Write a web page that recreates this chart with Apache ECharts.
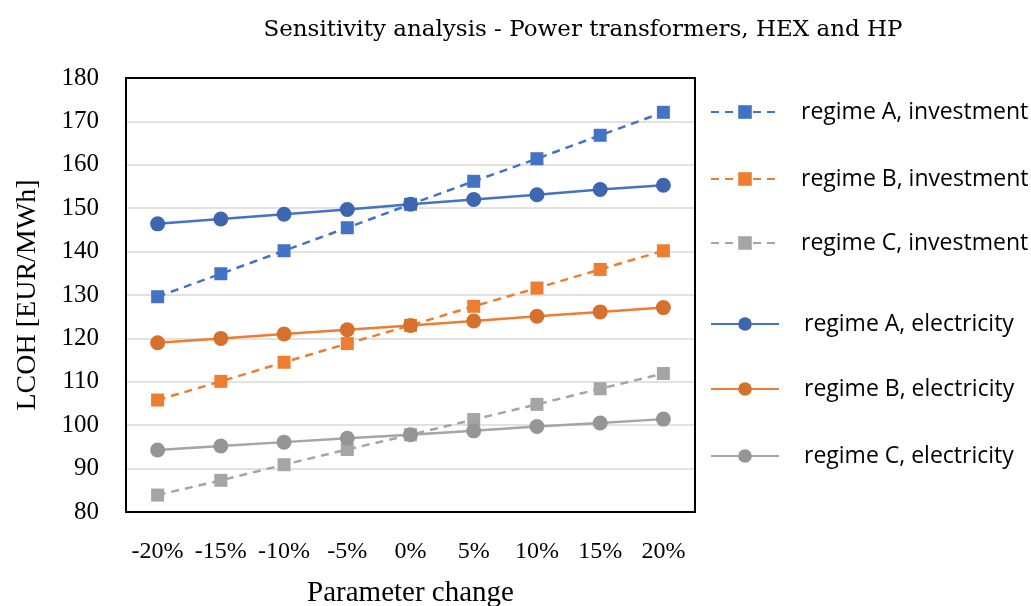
<!DOCTYPE html>
<html>
<head>
<meta charset="utf-8">
<script src="https://cdn.jsdelivr.net/npm/echarts@6/dist/echarts.min.js"></script>
<style>html,body{margin:0;padding:0;background:#fff;}#c{width:1031px;height:606px;}</style>
</head>
<body>
<div id="c"></div>
<script>
const categories = ['-20%', '-15%', '-10%', '-5%', '0%', '5%', '10%', '15%', '20%'];
const yTicks = [80, 90, 100, 110, 120, 130, 140, 150, 160, 170, 180];
const seriesNames = ['regime A, investment', 'regime B, investment', 'regime C, investment',
                     'regime A, electricity', 'regime B, electricity', 'regime C, electricity'];
const aInvestment = [129.6, 134.9, 140.2, 145.5, 150.9, 156.2, 161.4, 166.8, 172.1];
const bInvestment = [105.8, 110.1, 114.5, 118.8, 123.0, 127.4, 131.6, 135.9, 140.2];
const cInvestment = [83.9, 87.3, 90.9, 94.4, 97.8, 101.3, 104.8, 108.4, 111.9];
const aElectricity = [146.4, 147.5, 148.6, 149.7, 150.9, 152.0, 153.1, 154.3, 155.3];
const bElectricity = [119.0, 120.0, 121.0, 122.0, 123.0, 124.0, 125.1, 126.1, 127.1];
const cElectricity = [94.3, 95.2, 96.1, 97.0, 97.8, 98.7, 99.7, 100.5, 101.4];

const values = [aInvestment, bInvestment, cInvestment, aElectricity, bElectricity, cElectricity];
const lineColors = ['#4472C4', '#ED7D31', '#A5A5A5', '#4472C4', '#ED7D31', '#A5A5A5'];
const markerColors = ['#4472C4', '#ED7D31', '#A5A5A5', '#3D66AE', '#D5712D', '#959595'];
const legendCenters = [112, 179, 243, 324, 389, 456];
const legendTextPad = [17, 17, 17, 20, 20, 20];

const chart = echarts.init(document.getElementById('c'));
const series = seriesNames.map((name, i) => {
  const invest = i < 3;
  return {
    name: name,
    type: 'line',
    data: values[i],
    symbol: invest ? 'rect' : 'circle',
    symbolSize: invest ? 13 : 15,
    lineStyle: { color: lineColors[i], width: 2.5, type: invest ? [8, 6] : 'solid' },
    itemStyle: { color: markerColors[i], borderWidth: 0 },
    z: invest ? 2 : 3
  };
});
const legends = seriesNames.map((name, i) => ({
  data: [name],
  left: 710,
  top: legendCenters[i] - 14,
  orient: 'vertical',
  padding: 0,
  itemWidth: 68,
  itemHeight: 17,
  textStyle: { fontFamily: 'Open Sans', fontSize: 23, color: '#000', lineHeight: 28, padding: [0, 0, 0, legendTextPad[i]] }
}));

const frameAxis = { show: true, axisLine: { show: true, lineStyle: { color: '#000', width: 2 } }, axisTick: { show: false }, axisLabel: { show: false }, splitLine: { show: false } };

chart.setOption({
  animation: false,
  backgroundColor: '#fff',
  title: {
    text: 'Sensitivity analysis - Power transformers, HEX and HP',
    left: 578, top: 14, textAlign: 'center',
    textStyle: { fontFamily: 'DejaVu Serif', fontWeight: 'normal', fontSize: 23, color: '#000' }
  },
  legend: legends,
  grid: { left: 126, top: 78, width: 569, height: 434, outerBoundsMode: 'none', containLabel: false },
  xAxis: [{
    type: 'category',
    data: categories,
    boundaryGap: true,
    name: 'Parameter change',
    nameLocation: 'middle',
    nameGap: 67,
    nameTextStyle: { fontFamily: 'Liberation Serif', fontSize: 29, color: '#000' },
    axisLine: { show: true, lineStyle: { color: '#000', width: 2 } },
    axisTick: { show: false },
    axisLabel: { fontFamily: 'Liberation Serif', fontSize: 24, color: '#000', margin: 28, interval: 0 },
    splitLine: { show: false }
  }, Object.assign({ type: 'category', data: categories, position: 'top' }, frameAxis)],
  yAxis: [{
    type: 'value',
    min: yTicks[0], max: yTicks[yTicks.length - 1], interval: 10,
    name: 'LCOH [EUR/MWh]',
    nameLocation: 'middle',
    nameGap: 84,
    nameTextStyle: { fontFamily: 'Liberation Serif', fontSize: 28, color: '#000' },
    axisLine: { show: true, lineStyle: { color: '#000', width: 2 } },
    axisTick: { show: false },
    axisLabel: { fontFamily: 'Liberation Serif', fontSize: 25, color: '#000', margin: 27 },
    splitLine: { show: true, lineStyle: { color: '#D9D9D9', width: 1.5 } }
  }, Object.assign({ type: 'value', min: yTicks[0], max: yTicks[yTicks.length - 1], interval: 10, position: 'right' }, frameAxis)],
  series: series
});
</script>
</body>
</html>
